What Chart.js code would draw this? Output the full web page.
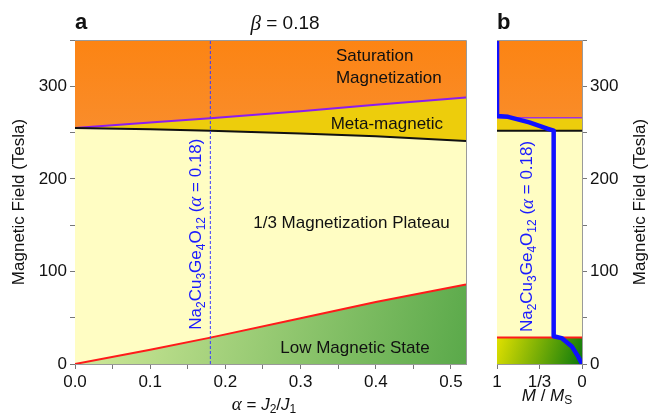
<!DOCTYPE html>
<html>
<head>
<meta charset="utf-8">
<script src="https://cdn.jsdelivr.net/npm/chart.js@4/dist/chart.umd.min.js"></script>
<style>
  body { margin: 0; background: #fff; }
  #wrap { position: relative; width: 650px; height: 417px; }
  #chart-a { position: absolute; left: 0; top: 0; }
  #chart-b { position: absolute; left: 480px; top: 0; }
</style>
</head>
<body>
<div id="wrap">
  <canvas id="chart-a" width="480" height="417"></canvas>
  <canvas id="chart-b" width="170" height="417"></canvas>
</div>
<script>
// panel a: phase boundaries (field in tesla) against alpha = J2/J1, beta = 0.18
const alphaGrid = [0, 0.1, 0.18, 0.3, 0.4, 0.52];
const lowEdge = [0, 15.5, 28.5, 49.5, 67, 86];       // red: low magnetic state / plateau
const metaLower = [255, 253.5, 252, 249, 246, 241];  // black: plateau / meta-magnetic
const satEdge = [255, 261, 265.5, 273, 280, 288];    // purple: meta-magnetic / saturation
const fieldTop = 350;
const alphaSample = 0.18;
const alphaTicks = [0, 0.05, 0.1, 0.15, 0.2, 0.25, 0.3, 0.35, 0.4, 0.45, 0.5];
const fieldTicks = [0, 50, 100, 150, 200, 250, 300, 350];

// panel b: magnetization curve at alpha = 0.18
const magM = [1, 1, 0.87, 0.62, 0.4, 1 / 3, 1 / 3, 0.24, 0.12, 0.045, 0];
const magH = [350, 268, 267, 261, 254, 252, 30, 28, 19, 8, 0];
const bandLow = 28.5, bandMeta = 252, bandSat = 266;
const mTicks = [1, 0.5, 0];
const mTickLabels = ['1', '1/3', '0'];

const FONT = '"Liberation Sans", Arial, sans-serif';
const pts = (xs, ys) => xs.map((x, i) => ({ x: x, y: ys[i] }));

// draw a run of text pieces: '' plain, 'i' italic serif (greek), 'is' italic sans, 'sub' subscript
function runs(ctx, parts, x, y, size, align) {
  const fontFor = st => st === 'sub' ? Math.round(size * 0.68) + 'px ' + FONT
    : st === 'i' ? 'italic ' + (size + 2) + 'px "Liberation Serif", serif'
    : st === 'is' ? 'italic ' + size + 'px ' + FONT
    : size + 'px ' + FONT;
  let w = 0;
  parts.forEach(p => { ctx.font = fontFor(p[1]); w += ctx.measureText(p[0]).width; });
  let cx = align === 'center' ? x - w / 2 : x;
  ctx.textAlign = 'left';
  parts.forEach(p => {
    ctx.font = fontFor(p[1]);
    ctx.fillText(p[0], cx, p[1] === 'sub' ? y + size * 0.3 : y);
    cx += ctx.measureText(p[0]).width;
  });
}

const formula = [['Na', ''], ['2', 'sub'], ['Cu', ''], ['3', 'sub'], ['Ge', ''], ['4', 'sub'],
  ['O', ''], ['12', 'sub'], [' (', ''], ['α', 'i'], [' = 0.18)', '']];

function orangeFill(chart) {
  const a = chart.chartArea;
  if (!a) return '#fb8716';
  const g = chart.ctx.createLinearGradient(0, a.top, 0, chart.scales.y.getPixelForValue(250));
  g.addColorStop(0, '#fc8413');
  g.addColorStop(1, '#f98d2c');
  return g;
}
function greenA(chart) {
  const a = chart.chartArea;
  if (!a) return '#9fd27a';
  const g = chart.ctx.createLinearGradient(a.left, chart.scales.y.getPixelForValue(90), a.right, a.bottom);
  g.addColorStop(0, '#d4eb9c');
  g.addColorStop(1, '#5aa94a');
  return g;
}
function greenB(chart) {
  const a = chart.chartArea;
  if (!a) return '#7cb000';
  const g = chart.ctx.createLinearGradient(a.left, chart.scales.y.getPixelForValue(bandLow), a.right, a.bottom);
  g.addColorStop(0, '#e0e000');
  g.addColorStop(1, '#0c7a0c');
  return g;
}

const axisBits = {
  grid: { drawOnChartArea: false, tickLength: 5, tickColor: '#777' },
  border: { color: '#999' }
};
const tickFont = { family: FONT, size: 17 };

const frame = (chart) => {
  const { ctx, chartArea: a } = chart;
  ctx.strokeStyle = '#9a9a9a';
  ctx.lineWidth = 1;
  ctx.beginPath();
  ctx.moveTo(a.left, a.top + 0.5);
  ctx.lineTo(a.right + 0.5, a.top + 0.5);
  ctx.lineTo(a.right + 0.5, a.bottom);
  ctx.stroke();
};

const drawA = {
  id: 'drawA',
  afterDraw(chart) {
    const { ctx, scales: { x, y } } = chart;
    ctx.save();
    frame(chart);
    ctx.textBaseline = 'middle';
    ctx.fillStyle = '#111';
    ctx.font = 'bold 22px ' + FONT;
    ctx.fillText('a', 75, 23);
    runs(ctx, [['β', 'i'], [' = 0.18', '']], 285, 24, 19, 'center');

    ctx.font = '17px ' + FONT;
    ctx.fillText('Saturation', x.getPixelForValue(0.347), y.getPixelForValue(332));
    ctx.fillText('Magnetization', x.getPixelForValue(0.347), y.getPixelForValue(308.5));
    ctx.fillText('Meta-magnetic', x.getPixelForValue(0.34), y.getPixelForValue(259));
    ctx.fillText('1/3 Magnetization Plateau', x.getPixelForValue(0.237), y.getPixelForValue(152));
    ctx.fillText('Low Magnetic State', x.getPixelForValue(0.273), y.getPixelForValue(17));

    runs(ctx, [['α', 'i'], [' = ', ''], ['J', 'is'], ['2', 'sub'], ['/', ''], ['J', 'is'], ['1', 'sub']], 264, 405, 17, 'center');

    ctx.save();
    ctx.translate(19, 202);
    ctx.rotate(-Math.PI / 2);
    ctx.font = '17px ' + FONT;
    ctx.textAlign = 'center';
    ctx.fillText('Magnetic Field (Tesla)', 0, 0);
    ctx.restore();

    ctx.save();
    ctx.translate(x.getPixelForValue(alphaSample) - 14, y.getPixelForValue(37));
    ctx.rotate(-Math.PI / 2);
    ctx.fillStyle = '#1a1aff';
    runs(ctx, formula, 0, 0, 17, 'left');
    ctx.restore();
    ctx.restore();
  }
};

const drawB = {
  id: 'drawB',
  afterDraw(chart) {
    const { ctx, scales: { x, y } } = chart;
    ctx.save();
    frame(chart);
    ctx.textBaseline = 'middle';
    ctx.fillStyle = '#111';
    ctx.font = 'bold 22px ' + FONT;
    ctx.fillText('b', 17, 23);
    runs(ctx, [['M', 'is'], [' / ', ''], ['M', 'is'], ['S', 'sub']], 67, 396, 17, 'center');

    ctx.save();
    ctx.translate(160, 202);
    ctx.rotate(-Math.PI / 2);
    ctx.font = '17px ' + FONT;
    ctx.textAlign = 'center';
    ctx.fillText('Magnetic Field (Tesla)', 0, 0);
    ctx.restore();

    ctx.save();
    ctx.translate(x.getPixelForValue(0.64), y.getPixelForValue(34.5));
    ctx.rotate(-Math.PI / 2);
    ctx.fillStyle = '#1a1aff';
    runs(ctx, formula, 0, 0, 17, 'left');
    ctx.restore();
    ctx.restore();
  }
};

const lineBase = { pointRadius: 0, tension: 0 };

new Chart(document.getElementById('chart-a'), {
  type: 'line',
  data: {
    datasets: [
      { ...lineBase, data: pts(alphaGrid, lowEdge), borderColor: '#ff1a1a', borderWidth: 2,
        fill: 'origin', backgroundColor: c => greenA(c.chart) },
      { ...lineBase, data: pts(alphaGrid, metaLower), borderColor: '#111', borderWidth: 2,
        fill: '-1', backgroundColor: '#fffdc3' },
      { ...lineBase, data: pts(alphaGrid, satEdge), borderColor: '#8c1cf0', borderWidth: 2,
        fill: '-1', backgroundColor: '#edcd0c' },
      { ...lineBase, data: pts([0, 0.52], [fieldTop, fieldTop]), borderWidth: 0,
        fill: '-1', backgroundColor: c => orangeFill(c.chart) },
      { ...lineBase, data: pts([alphaSample, alphaSample], [0, fieldTop]), borderColor: '#3a3aff',
        borderWidth: 1, borderDash: [3, 2], fill: false, order: -1 }
    ]
  },
  options: {
    responsive: false,
    animation: false,
    events: [],
    layout: { padding: { left: 0, right: 14, top: 40, bottom: 0 } },
    plugins: { legend: { display: false }, tooltip: { enabled: false } },
    scales: {
      x: {
        type: 'linear', min: 0, max: 0.52, ...axisBits,
        afterBuildTicks: s => { s.ticks = alphaTicks.map(v => ({ value: v })); },
        afterFit: s => { s.height = 53; },
        ticks: { font: tickFont, color: '#111', padding: 3, maxRotation: 0, autoSkip: false,
          callback: v => (Math.round(v * 100) % 10 === 0 ? v.toFixed(1) : '') }
      },
      y: {
        min: 0, max: fieldTop, ...axisBits,
        afterBuildTicks: s => { s.ticks = fieldTicks.map(v => ({ value: v })); },
        afterFit: s => { s.width = 75; },
        ticks: { font: tickFont, color: '#111', padding: 3,
          callback: v => (v % 100 === 0 ? String(v) : '') }
      }
    }
  },
  plugins: [drawA]
});

new Chart(document.getElementById('chart-b'), {
  type: 'line',
  data: {
    datasets: [
      { pointRadius: 0, data: pts([0, 1], [bandLow, bandLow]), borderColor: '#ff1a1a', borderWidth: 2,
        fill: 'origin', backgroundColor: c => greenB(c.chart) },
      { pointRadius: 0, data: pts([0, 1], [bandMeta, bandMeta]), borderColor: '#111', borderWidth: 2,
        fill: '-1', backgroundColor: '#fffdc3' },
      { pointRadius: 0, data: pts([0, 1], [bandSat, bandSat]), borderColor: '#a030e0', borderWidth: 1.5,
        fill: '-1', backgroundColor: '#edcd0c' },
      { pointRadius: 0, data: pts([0, 1], [fieldTop, fieldTop]), borderWidth: 0,
        fill: '-1', backgroundColor: c => orangeFill(c.chart) },
      { pointRadius: 0, data: pts(magM, magH), borderColor: '#1010ff', borderWidth: 4.5,
        borderJoinStyle: 'round', fill: false, clip: 0, order: -1 }
    ]
  },
  options: {
    responsive: false,
    animation: false,
    events: [],
    layout: { padding: { left: 17, right: 0, top: 40, bottom: 0 } },
    plugins: { legend: { display: false }, tooltip: { enabled: false } },
    scales: {
      x: {
        type: 'linear', min: 0, max: 1, reverse: true, ...axisBits,
        afterBuildTicks: s => { s.ticks = mTicks.map(v => ({ value: v })); },
        afterFit: s => { s.height = 53; },
        ticks: { font: tickFont, color: '#111', padding: 3, maxRotation: 0, autoSkip: false,
          callback: v => mTickLabels[mTicks.indexOf(v)] }
      },
      y: {
        position: 'right', min: 0, max: fieldTop, ...axisBits,
        afterBuildTicks: s => { s.ticks = fieldTicks.map(v => ({ value: v })); },
        afterFit: s => { s.width = 68; },
        ticks: { font: tickFont, color: '#111', padding: 3,
          callback: v => (v % 100 === 0 ? String(v) : '') }
      }
    }
  },
  plugins: [drawB]
});
</script>
</body>
</html>
